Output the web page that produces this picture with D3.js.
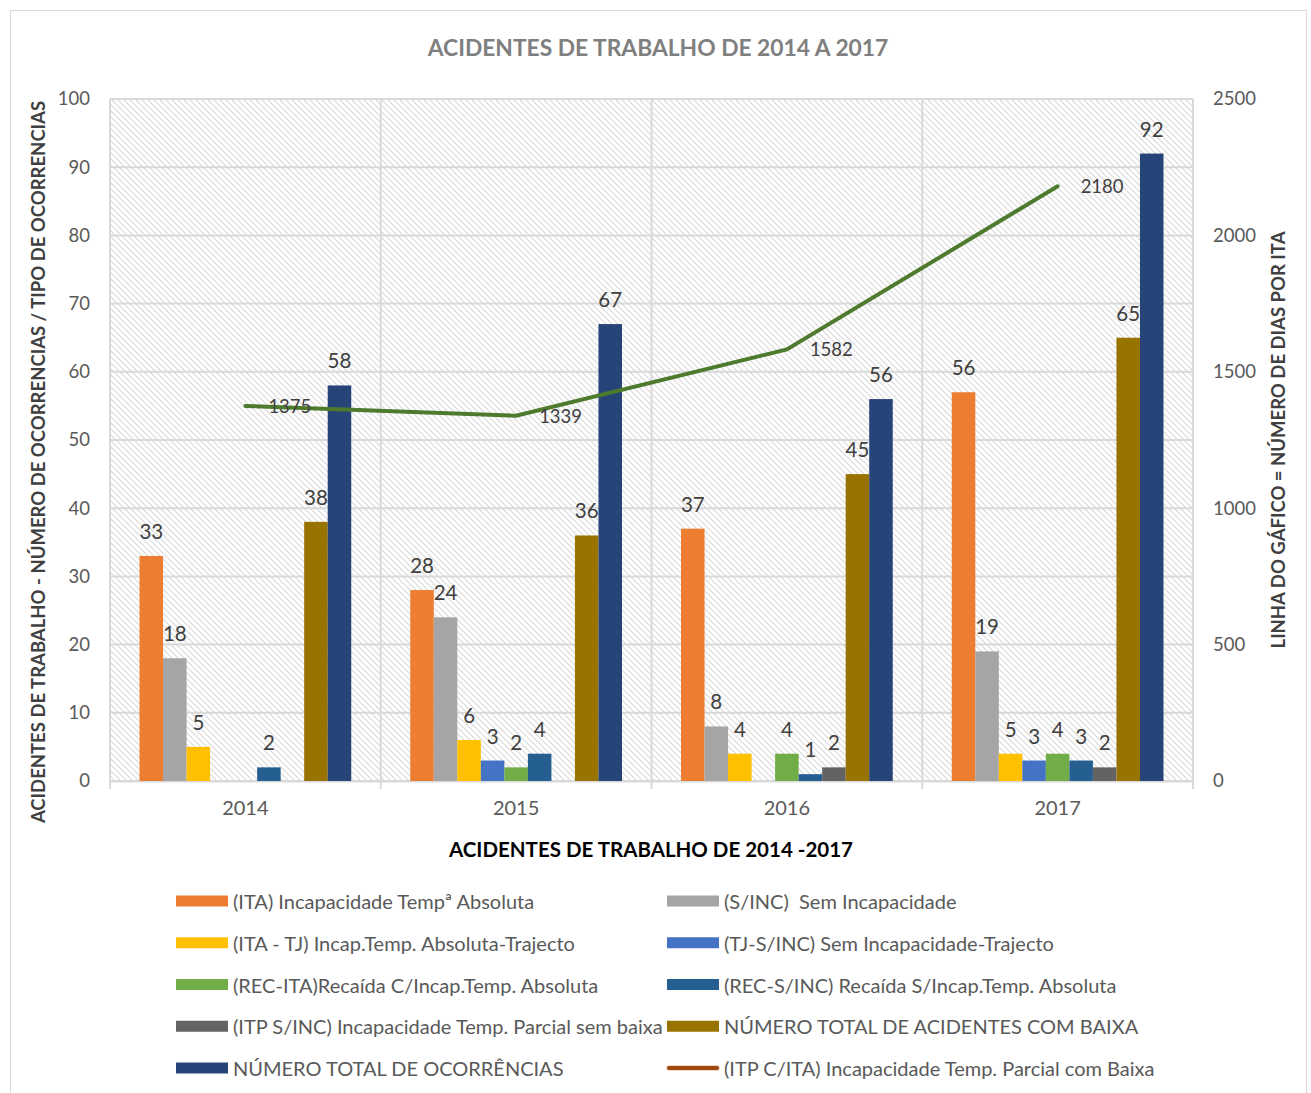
<!DOCTYPE html>
<html>
<head>
<meta charset="utf-8">
<script src="https://cdn.jsdelivr.net/npm/d3@7"></script>
<style>
body { margin: 0; background: #fff; }
text { font-family: Lato, "Open Sans", sans-serif; white-space: pre; }
</style>
</head>
<body>
<script>
// anos (categorias)
var years = ["2014", "2015", "2016", "2017"];

// series de barras
var seriesNames = [
    "(ITA) Incapacidade Tempª Absoluta",
    "(S/INC)  Sem Incapacidade",
    "(ITA - TJ) Incap.Temp. Absoluta-Trajecto",
    "(TJ-S/INC) Sem Incapacidade-Trajecto",
    "(REC-ITA)Recaída C/Incap.Temp. Absoluta",
    "(REC-S/INC) Recaída S/Incap.Temp. Absoluta",
    "(ITP S/INC) Incapacidade Temp. Parcial sem baixa",
    "NÚMERO TOTAL DE ACIDENTES COM BAIXA",
    "NÚMERO TOTAL DE OCORRÊNCIAS"
];
var seriesColors = ["#ED7D31", "#A5A5A5", "#FFC000", "#4472C4", "#70AD47", "#255E91", "#636363", "#997300", "#264478"];

// valores por serie, um por ano (null = sem barra)
var ita      = [33, 28, 37, 57];
var semInc   = [18, 24, 8, 19];
var itaTj    = [5, 6, 4, 4];
var tjSemInc = [null, 3, null, 3];
var recIta   = [null, 2, 4, 4];
var recSemInc= [2, 4, 1, 3];
var itpSemInc= [null, null, 2, 2];
var totalBaixa = [38, 36, 45, 65];
var totalOcorr = [58, 67, 56, 92];
var seriesValues = [ita, semInc, itaTj, tjSemInc, recIta, recSemInc, itpSemInc, totalBaixa, totalOcorr];

// rotulos como aparecem no grafico original (alguns diferem da barra)
var labelOverrides = { "0-3": "56", "2-3": "5" };

// linha: numero de dias por ITA
var lineName = "(ITP C/ITA) Incapacidade Temp. Parcial com Baixa";
var diasIta = [1375, 1339, 1582, 2180];

var leftTicks = [0, 10, 20, 30, 40, 50, 60, 70, 80, 90, 100];
var rightTicks = [0, 500, 1000, 1500, 2000, 2500];

// dimensoes
var W = 1311, H = 1093;
var plotLeft = 110, plotRight = 1193, plotTop = 99, plotBottom = 781;
var gridColor = "#D9D9D9";
var tickColor = "#595959";

var svg = d3.select("body").append("svg")
    .attr("width", W)
    .attr("height", H)
    .attr("viewBox", "0 0 " + W + " " + H);

// padrao tracejado do fundo
var defs = svg.append("defs");
var pat = defs.append("pattern")
    .attr("id", "hatch")
    .attr("patternUnits", "userSpaceOnUse")
    .attr("width", 6)
    .attr("height", 6);
pat.append("rect").attr("width", 6).attr("height", 6).attr("fill", "#fff");
pat.append("path")
    .attr("d", "M-1,-1 L7,7 M5,-1 L7,1 M-1,5 L1,7")
    .attr("stroke", "#DADADA")
    .attr("stroke-width", 1.2);

// moldura exterior
svg.append("rect")
    .attr("x", 10.5).attr("y", 10.5)
    .attr("width", 1296).attr("height", 1100)
    .attr("fill", "#fff")
    .attr("stroke", gridColor);

// escalas
var x0 = d3.scaleBand().domain(years).range([plotLeft, plotRight]);
var groupGap = x0.bandwidth() * 0.109;
var x1 = d3.scaleBand().domain(d3.range(seriesNames.length))
    .range([groupGap, x0.bandwidth() - groupGap]);
var yL = d3.scaleLinear().domain([0, 100]).range([plotBottom, plotTop]);
var yR = d3.scaleLinear().domain([0, 2500]).range([plotBottom, plotTop]);

// fundo da area do grafico
svg.append("rect")
    .attr("x", plotLeft).attr("y", plotTop)
    .attr("width", plotRight - plotLeft).attr("height", plotBottom - plotTop)
    .attr("fill", "url(#hatch)");

// linhas de grelha horizontais
svg.append("g").selectAll("line").data(leftTicks).join("line")
    .attr("x1", plotLeft).attr("x2", plotRight)
    .attr("y1", function(d) { return yL(d); })
    .attr("y2", function(d) { return yL(d); })
    .attr("stroke", gridColor)
    .attr("stroke-width", 2);

// linhas de grelha verticais (limites das categorias)
var bounds = years.map(function(y) { return x0(y); }).concat([plotRight]);
svg.append("g").selectAll("line").data(bounds).join("line")
    .attr("x1", function(d) { return d; })
    .attr("x2", function(d) { return d; })
    .attr("y1", plotTop)
    .attr("y2", plotBottom + 8)
    .attr("stroke", gridColor)
    .attr("stroke-width", 2);

// eixo esquerdo
var axL = svg.append("g")
    .attr("transform", "translate(" + plotLeft + ",0)")
    .call(d3.axisLeft(yL).tickValues(leftTicks).tickSize(0).tickPadding(20));
axL.select(".domain").remove();
axL.selectAll("text").attr("fill", tickColor).attr("font-size", 18.5)
    .attr("font-family", "Lato, sans-serif");

// eixo direito
var axR = svg.append("g")
    .attr("transform", "translate(" + plotRight + ",0)")
    .call(d3.axisRight(yR).tickValues(rightTicks).tickFormat(d3.format("d")).tickSize(0).tickPadding(20));
axR.select(".domain").remove();
axR.selectAll("text").attr("fill", tickColor).attr("font-size", 18.5)
    .attr("font-family", "Lato, sans-serif");

// eixo das categorias
var axB = svg.append("g")
    .attr("transform", "translate(0," + plotBottom + ")")
    .call(d3.axisBottom(x0).tickSize(0).tickPadding(20));
axB.select(".domain").attr("stroke", gridColor).attr("stroke-width", 2);
axB.selectAll("text").attr("fill", tickColor).attr("font-size", 20)
    .attr("font-family", "Lato, sans-serif");

// barras
var bars = [];
seriesValues.forEach(function(vals, s) {
    vals.forEach(function(v, i) {
        if (v != null)
            bars.push({ s: s, year: years[i], v: v, label: labelOverrides[s + "-" + i] || String(v) });
    });
});

var barG = svg.append("g");
barG.selectAll("rect").data(bars).join("rect")
    .attr("x", function(d) { return x0(d.year) + x1(d.s); })
    .attr("y", function(d) { return yL(d.v); })
    .attr("width", x1.bandwidth())
    .attr("height", function(d) { return yL(0) - yL(d.v); })
    .attr("fill", function(d) { return seriesColors[d.s]; });

// linha
var lineGen = d3.line()
    .x(function(d, i) { return x0(years[i]) + x0.bandwidth() / 2; })
    .y(function(d) { return yR(d); });
svg.append("path")
    .datum(diasIta)
    .attr("d", lineGen)
    .attr("fill", "none")
    .attr("stroke", "#4E7A2E")
    .attr("stroke-width", 4)
    .attr("stroke-linecap", "round");

// rotulos das barras
barG.selectAll("text").data(bars).join("text")
    .attr("x", function(d) { return x0(d.year) + x1(d.s) + x1.bandwidth() / 2; })
    .attr("y", function(d) { return yL(d.v) - 25; })
    .attr("text-anchor", "middle")
    .attr("dominant-baseline", "central")
    .attr("font-size", 20.5)
    .attr("fill", "#404040")
    .text(function(d) { return d.label; });

// rotulos da linha
svg.append("g").selectAll("text").data(diasIta).join("text")
    .attr("x", function(d, i) { return x0(years[i]) + x0.bandwidth() / 2 + 23; })
    .attr("y", function(d) { return yR(d); })
    .attr("dominant-baseline", "central")
    .attr("font-size", 18.5)
    .attr("fill", "#404040")
    .text(function(d) { return d; });

// titulo
svg.append("text")
    .attr("x", 658).attr("y", 47)
    .attr("text-anchor", "middle")
    .attr("dominant-baseline", "central")
    .attr("font-size", 22.8)
    .attr("font-weight", "bold")
    .attr("fill", "#7F7F7F")
    .text("ACIDENTES DE TRABALHO DE 2014 A 2017");

// titulos dos eixos
svg.append("text")
    .attr("transform", "translate(38,462) rotate(-90)")
    .attr("text-anchor", "middle")
    .attr("dominant-baseline", "central")
    .attr("font-size", 18.5)
    .attr("font-weight", "bold")
    .attr("fill", "#404040")
    .text("ACIDENTES DE TRABALHO - NÚMERO DE OCORRENCIAS / TIPO DE OCORRENCIAS");

svg.append("text")
    .attr("transform", "translate(1278,440) rotate(-90)")
    .attr("text-anchor", "middle")
    .attr("dominant-baseline", "central")
    .attr("font-size", 18.5)
    .attr("font-weight", "bold")
    .attr("fill", "#404040")
    .text("LINHA DO GÁFICO = NÚMERO DE DIAS POR ITA");

svg.append("text")
    .attr("x", 651).attr("y", 849)
    .attr("text-anchor", "middle")
    .attr("dominant-baseline", "central")
    .attr("font-size", 20.5)
    .attr("font-weight", "bold")
    .attr("fill", "#000")
    .text("ACIDENTES DE TRABALHO DE 2014 -2017");

// legenda (2 colunas)
var legendItems = seriesNames.map(function(n, i) { return { name: n, color: seriesColors[i], line: false }; });
legendItems.push({ name: lineName, color: "#9E480E", line: true });

var legX = [176, 667], legY0 = 901, legDy = 41.75;
var leg = svg.append("g").selectAll("g").data(legendItems).join("g")
    .attr("transform", function(d, i) {
        return "translate(" + legX[i % 2] + "," + (legY0 + Math.floor(i / 2) * legDy) + ")";
    });

leg.filter(function(d) { return !d.line; }).append("rect")
    .attr("x", 0).attr("y", -5.5)
    .attr("width", 52).attr("height", 11)
    .attr("fill", function(d) { return d.color; });

leg.filter(function(d) { return d.line; }).append("line")
    .attr("x1", 2).attr("x2", 50)
    .attr("stroke", "#F4D9C6").attr("stroke-width", 6).attr("stroke-linecap", "round");
leg.filter(function(d) { return d.line; }).append("line")
    .attr("x1", 2).attr("x2", 50)
    .attr("stroke", function(d) { return d.color; }).attr("stroke-width", 4).attr("stroke-linecap", "round");

leg.append("text")
    .attr("x", 57)
    .attr("dominant-baseline", "central")
    .attr("font-size", 20)
    .attr("fill", tickColor)
    .text(function(d) { return d.name; });
</script>
</body>
</html>
